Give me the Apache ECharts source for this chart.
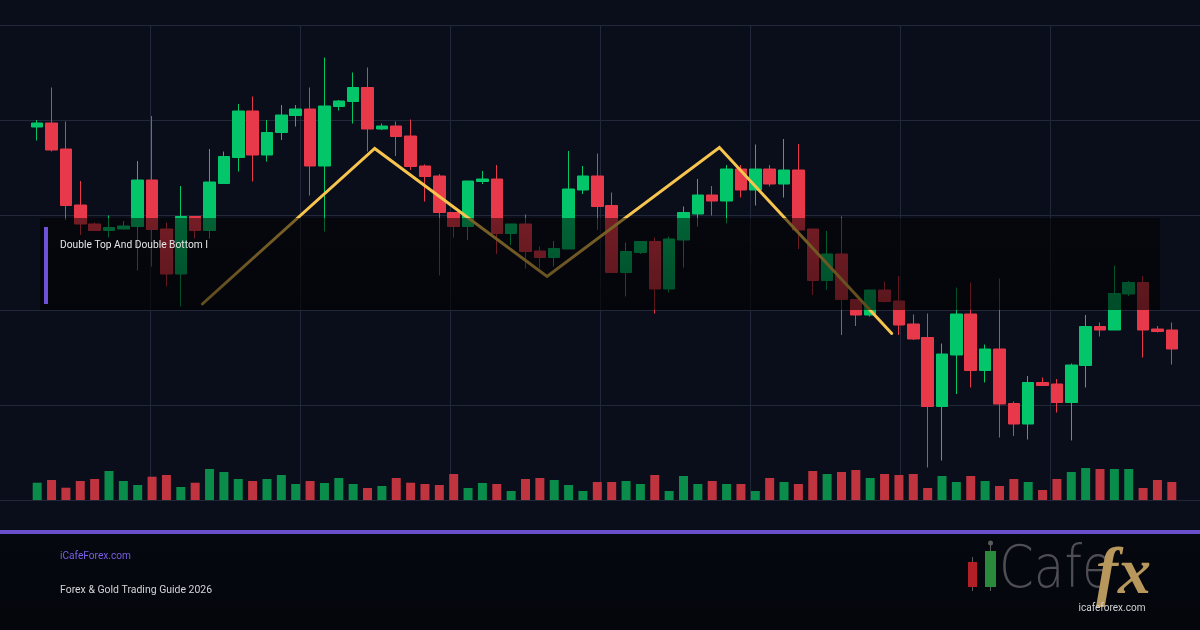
<!DOCTYPE html>
<html>
<head>
<meta charset="utf-8">
<title>Double Top And Double Bottom</title>
<script src="https://cdn.jsdelivr.net/npm/echarts@6/dist/echarts.min.js"></script>
<style>
    html, body { margin: 0; padding: 0; background: #0a0e1a; }
    #chart { width: 1200px; height: 630px; }
</style>
</head>
<body>
<div id="chart"></div>
<script>
    // candle prices
    let opens = [
        2374.6, 2375.4, 2370.2, 2359.0, 2355.2, 2353.9, 2354.2, 2354.7, 2364.0, 2354.2,
        2345.2, 2356.7, 2353.9, 2363.3, 2368.5, 2377.8, 2369.0, 2373.5, 2376.9, 2378.2,
        2366.8, 2378.7, 2379.7, 2382.5, 2374.2, 2374.8, 2372.8, 2366.8, 2364.8, 2357.5,
        2354.7, 2363.7, 2364.2, 2353.3, 2355.2, 2349.8, 2348.5, 2350.2, 2362.0, 2364.8,
        2358.9, 2345.5, 2349.5, 2351.7, 2342.2, 2352.0, 2357.2, 2361.0, 2359.8, 2366.2,
        2362.0, 2366.2, 2363.2, 2366.0, 2354.2, 2343.9, 2349.2, 2340.1, 2337.0, 2342.0,
        2339.8, 2335.2, 2332.5, 2318.7, 2329.0, 2337.2, 2325.9, 2330.2, 2319.3, 2315.2,
        2323.5, 2323.2, 2319.5, 2326.9, 2334.7, 2334.0, 2341.2, 2343.5, 2334.2, 2334.0
    ];
    let closes = [
        2375.4, 2370.0, 2358.9, 2355.2, 2353.9, 2354.5, 2354.8, 2364.0, 2354.1, 2345.2,
        2356.7, 2353.9, 2363.6, 2368.7, 2377.8, 2369.0, 2373.5, 2377.0, 2378.2, 2366.8,
        2378.8, 2379.8, 2382.5, 2374.2, 2374.8, 2372.7, 2366.7, 2364.7, 2357.5, 2354.7,
        2363.8, 2364.2, 2353.3, 2355.2, 2349.7, 2348.5, 2350.3, 2362.2, 2364.8, 2358.7,
        2345.5, 2349.7, 2351.7, 2342.2, 2352.2, 2357.5, 2361.0, 2359.8, 2366.2, 2362.0,
        2366.2, 2363.2, 2366.0, 2354.0, 2343.9, 2349.2, 2340.1, 2337.0, 2342.0, 2339.7,
        2335.0, 2332.2, 2318.7, 2329.2, 2337.2, 2325.9, 2330.2, 2319.2, 2315.2, 2323.5,
        2322.9, 2319.5, 2327.0, 2334.7, 2334.0, 2341.3, 2343.5, 2334.0, 2333.7, 2330.2
    ];
    let lows = [
        2371.9, 2369.7, 2356.0, 2353.0, 2353.8, 2352.5, 2354.1, 2345.9, 2346.7, 2342.7,
        2338.7, 2352.3, 2352.3, 2363.2, 2365.7, 2363.7, 2367.7, 2372.0, 2374.7, 2360.9,
        2353.7, 2377.9, 2375.3, 2369.7, 2374.0, 2368.8, 2366.0, 2359.7, 2344.9, 2352.5,
        2352.0, 2363.2, 2349.2, 2351.0, 2346.3, 2346.3, 2346.7, 2350.2, 2361.2, 2354.0,
        2345.5, 2340.7, 2349.2, 2337.3, 2341.5, 2346.5, 2354.7, 2356.9, 2355.3, 2360.5,
        2358.9, 2362.7, 2360.5, 2350.2, 2341.0, 2342.0, 2333.0, 2334.8, 2336.7, 2339.5,
        2333.0, 2332.0, 2306.5, 2307.9, 2321.2, 2322.5, 2323.5, 2312.5, 2312.8, 2312.1,
        2322.9, 2317.5, 2311.9, 2322.5, 2332.7, 2334.0, 2340.8, 2328.5, 2333.5, 2327.1
    ];
    let highs = [
        2376.0, 2382.5, 2375.7, 2363.8, 2355.5, 2356.9, 2355.8, 2367.8, 2376.8, 2355.5,
        2362.8, 2356.7, 2370.2, 2369.7, 2379.2, 2380.7, 2376.0, 2379.0, 2379.0, 2382.5,
        2388.5, 2380.0, 2385.5, 2386.5, 2375.3, 2375.7, 2376.1, 2367.1, 2365.2, 2357.5,
        2363.8, 2365.8, 2367.0, 2355.2, 2357.1, 2350.7, 2351.8, 2369.8, 2366.8, 2369.3,
        2361.5, 2351.5, 2351.8, 2352.5, 2352.7, 2358.7, 2364.2, 2362.8, 2367.0, 2367.0,
        2371.1, 2367.0, 2372.2, 2371.2, 2354.2, 2353.8, 2356.7, 2340.1, 2342.0, 2343.7,
        2344.8, 2337.1, 2337.3, 2331.3, 2342.5, 2343.5, 2331.1, 2344.3, 2319.7, 2324.8,
        2324.5, 2324.2, 2327.3, 2337.0, 2335.5, 2346.9, 2343.8, 2344.8, 2334.8, 2335.5
    ];
    let volumes = [
        1730, 2000, 1230, 1900, 2100, 2900, 1900, 1500, 2330, 2500,
        1300, 1730, 3100, 2800, 2100, 1900, 2100, 2500, 1600, 1900,
        1700, 2200, 1600, 1200, 1400, 2200, 1730, 1600, 1500, 2600,
        1200, 1700, 1600, 900, 2100, 2200, 2000, 1500, 900, 1800,
        1800, 1900, 1600, 2500, 900, 2400, 1600, 1900, 1600, 1600,
        900, 2200, 1800, 1600, 2900, 2600, 2800, 3000, 2200, 2600,
        2500, 2600, 1200, 2400, 1800, 2400, 1900, 1400, 2100, 1800,
        1000, 2100, 2800, 3200, 3100, 3100, 3100, 1200, 2000, 1800
    ];

    // zigzag of the pattern: position on the candle axis, price
    let patternX = [11.5, 23.5, 35.5, 47.5, 59.5];
    let patternY = [2339.2, 2370.3, 2344.7, 2370.5, 2333.3];

    let titleText = 'Double Top And Double Bottom I';
    let siteText = 'iCafeForex.com';
    let guideText = 'Forex & Gold Trading Guide 2026';
    let logoUrlText = 'icafeforex.com';

    let upColor = '#03c56a';
    let downColor = '#e8394a';
    let upVolColor = '#0a8c4b';
    let downVolColor = '#c0343f';
    let gridColor = '#212839';

    let categories = opens.map((o, i) => 'D' + (i + 1));
    let candleData = opens.map((o, i) => [o, closes[i], lows[i], highs[i]]);
    let volumeData = volumes.map((v, i) => ({
        value: v,
        itemStyle: {color: closes[i] >= opens[i] ? upVolColor : downVolColor}
    }));
    let patternData = patternX.map((x, i) => [x, patternY[i]]);

    let myChart = echarts.init(document.getElementById('chart'));

    let hiddenAxis = {
        axisLine: {show: false},
        axisTick: {show: false},
        axisLabel: {show: false},
        splitLine: {show: false}
    };

    let option = {
        backgroundColor: '#0a0e1a',
        animation: false,
        grid: [
            {left: 30, right: 21, top: 25, bottom: 130},
            {left: 30, right: 21, top: 460, bottom: 130},
            {left: 0, right: 0, top: 25, bottom: 130}
        ],
        xAxis: [
            Object.assign({type: 'category', gridIndex: 0, data: categories, boundaryGap: true}, hiddenAxis),
            Object.assign({type: 'category', gridIndex: 1, data: categories, boundaryGap: true}, hiddenAxis),
            Object.assign({type: 'value', gridIndex: 0, min: -0.5, max: 79.5}, hiddenAxis),
            {
                type: 'value', gridIndex: 2, min: 0, max: 1200, interval: 150,
                axisLine: {show: false}, axisTick: {show: false}, axisLabel: {show: false},
                splitLine: {show: true, showMinLine: false, showMaxLine: false, lineStyle: {color: gridColor, width: 1}}
            }
        ],
        yAxis: [
            Object.assign({type: 'value', gridIndex: 0, min: 2300, max: 2395}, hiddenAxis),
            Object.assign({type: 'value', gridIndex: 1, min: 0, max: 4000}, hiddenAxis),
            {
                type: 'value', gridIndex: 2, min: 0, max: 5, interval: 1,
                axisLine: {show: false}, axisTick: {show: false}, axisLabel: {show: false},
                splitLine: {show: true, lineStyle: {color: gridColor, width: 1}}
            }
        ],
        series: [
            {
                type: 'candlestick',
                xAxisIndex: 0,
                yAxisIndex: 0,
                data: candleData,
                barWidth: 12,
                itemStyle: {
                    color: upColor,
                    color0: downColor,
                    borderColor: upColor,
                    borderColor0: downColor,
                    borderWidth: 1
                }
            },
            {
                type: 'bar',
                xAxisIndex: 1,
                yAxisIndex: 1,
                data: volumeData,
                barWidth: 9
            },
            {
                type: 'line',
                xAxisIndex: 2,
                yAxisIndex: 0,
                data: patternData,
                showSymbol: false,
                symbol: 'none',
                lineStyle: {color: '#f7c44e', width: 3, cap: 'round', join: 'miter'},
                z: 5
            }
        ],
        graphic: [
            // dark label band across the chart
            {
                type: 'rect', z: 100,
                shape: {x: 40, y: 218, width: 1120, height: 92},
                style: {
                    fill: new echarts.graphic.LinearGradient(0, 0, 0, 1, [
                        {offset: 0, color: 'rgba(0,0,0,0.5)'},
                        {offset: 1, color: 'rgba(0,0,0,0.62)'}
                    ])
                }
            },
            {
                type: 'rect', z: 101,
                shape: {x: 44, y: 227, width: 4, height: 77},
                style: {fill: '#6d52d8'}
            },
            {
                type: 'text', z: 101, x: 60, y: 245, scaleX: 0.93,
                style: {
                    text: titleText, fill: '#e6e6e6', fontSize: 11,
                    fontFamily: 'Roboto', verticalAlign: 'middle'
                }
            },
            // footer
            {
                type: 'rect', z: 0,
                shape: {x: 0, y: 533, width: 1200, height: 97},
                style: {
                    fill: new echarts.graphic.LinearGradient(0, 0, 0, 1, [
                        {offset: 0, color: '#060810'},
                        {offset: 1, color: '#04060c'}
                    ])
                }
            },
            {
                type: 'rect', z: 1,
                shape: {x: 0, y: 530, width: 1200, height: 4},
                style: {fill: '#6a4fcc'}
            },
            {
                type: 'text', x: 60, y: 556, scaleX: 0.92,
                style: {
                    text: siteText, fill: '#7a5ee6', fontSize: 11,
                    fontFamily: 'Roboto', verticalAlign: 'middle'
                }
            },
            {
                type: 'text', x: 60, y: 590, scaleX: 0.95,
                style: {
                    text: guideText, fill: '#d4d4d8', fontSize: 11,
                    fontFamily: 'Roboto', verticalAlign: 'middle'
                }
            },
            // logo
            {type: 'line', shape: {x1: 972.5, y1: 557, x2: 972.5, y2: 591}, style: {stroke: '#5a5a5a', lineWidth: 1}},
            {type: 'rect', shape: {x: 968, y: 562, width: 9, height: 25}, style: {fill: '#b21f26'}},
            {type: 'line', shape: {x1: 990.5, y1: 545, x2: 990.5, y2: 591}, style: {stroke: '#5a5a5a', lineWidth: 1}},
            {type: 'circle', shape: {cx: 990.5, cy: 543, r: 2.5}, style: {fill: '#5a5a5a'}},
            {type: 'rect', shape: {x: 985, y: 551, width: 11, height: 36}, style: {fill: '#2a8a3c'}},
            {
                type: 'text', x: 999, y: 572, scaleX: 0.86, z: 2,
                style: {
                    text: 'Cafe', fill: '#4e4e54', fontSize: 58, fontWeight: 200,
                    fontFamily: 'DejaVu Sans ExtraLight, DejaVu Sans', verticalAlign: 'middle'
                }
            },
            {
                type: 'text', x: 1096, y: 576, z: 3,
                style: {
                    text: 'fx', fontSize: 66, fontStyle: 'italic', fontWeight: 'bold',
                    fontFamily: 'Liberation Serif', verticalAlign: 'middle',
                    fill: '#b8975c'
                }
            },
            {
                type: 'text', x: 1112, y: 608, z: 120,
                style: {
                    text: logoUrlText, fill: '#d2d2d2', fontSize: 10,
                    fontFamily: 'Roboto', align: 'center', verticalAlign: 'middle'
                }
            }
        ]
    };
    myChart.setOption(option);
</script>
</body>
</html>
